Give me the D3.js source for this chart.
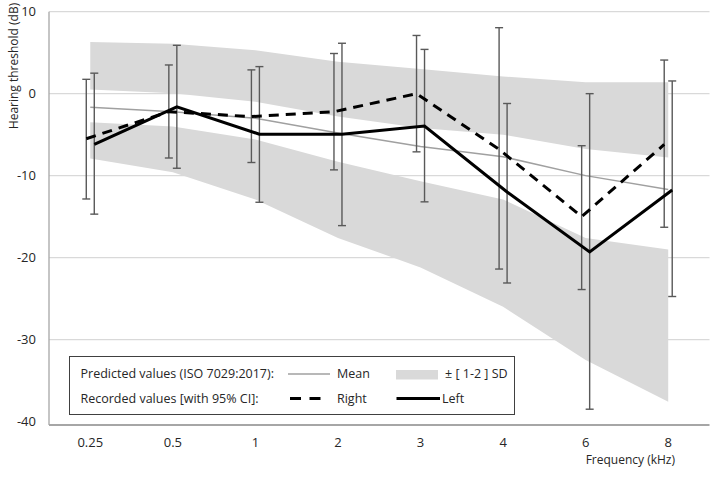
<!DOCTYPE html>
<html><head><meta charset="utf-8">
<script src="https://cdn.jsdelivr.net/npm/d3@7"></script>
<style>
html,body{margin:0;padding:0;background:#fff;}
text{font-family:"Open Sans","Noto Sans",sans-serif;fill:#262626;}
</style></head>
<body>
<svg id="chart" width="720" height="478"></svg>
<script>
// ---- data ----
const freqs = ["0.25","0.5","1","2","3","4","6","8"];
const yTicks = [10, 0, -10, -20, -30, -40];
const meanPred = [-1.65, -2.2, -3.0, -4.8, -6.45, -7.7, -10.0, -11.7];
const upperOuter = [6.3, 6.1, 5.3, 3.9, 3.0, 2.1, 1.4, 1.4];
const upperInner = [0.5, 0.05, -1.0, -2.8, -4.2, -5.0, -6.75, -7.8];
const lowerInner = [-3.5, -4.0, -5.6, -8.3, -10.7, -12.9, -17.6, -19.0];
const lowerOuter = [-7.9, -9.6, -12.9, -17.6, -21.2, -26.0, -32.5, -37.6];
const rightVals = [-5.5, -2.2, -2.8, -2.2, 0.0, -6.8, -15.0, -6.2];
const rightHi = [1.75, 3.5, 2.9, 4.9, 7.1, 8.05, -6.35, 4.1];
const rightLo = [-12.85, -7.85, -8.4, -9.3, -7.1, -21.4, -23.9, -16.3];
const leftVals = [-6.2, -1.6, -4.95, -4.95, -3.95, -12.0, -19.3, -11.75];
const leftHi = [2.5, 5.9, 3.3, 6.15, 5.4, -1.2, 0.0, 1.55];
const leftLo = [-14.7, -9.1, -13.25, -16.1, -13.2, -23.1, -38.5, -24.75];

// ---- layout ----
const svg = d3.select("#chart");
const x = d3.scaleBand().domain(freqs).range([49, 709.5]).padding(0);
const cx = f => x(f) + x.bandwidth() / 2;
const y = d3.scaleLinear().domain([-40, 10]).range([421.5, 11.7]);
const off = 4;

// gridlines
svg.append("g").selectAll("line").data(yTicks.filter(t => t > -40)).join("line")
  .attr("x1", 49).attr("x2", 709.5)
  .attr("y1", d => y(d)).attr("y2", d => y(d))
  .attr("stroke", "#d9d9d9").attr("stroke-width", 1.3);

// bands
const idx = d3.range(freqs.length);
const area = (hi, lo) => d3.area().x(i => cx(freqs[i])).y0(i => y(lo[i])).y1(i => y(hi[i]));
svg.append("path").datum(idx).attr("d", area(upperOuter, upperInner)).attr("fill", "#d9d9d9");
svg.append("path").datum(idx).attr("d", area(lowerInner, lowerOuter)).attr("fill", "#d9d9d9");

// axes lines
svg.append("line").attr("x1", 49).attr("x2", 49).attr("y1", y(10)).attr("y2", y(-40) + 3.5)
  .attr("stroke", "#a6a6a6").attr("stroke-width", 1.3);
svg.append("line").attr("x1", 49).attr("x2", 709.5).attr("y1", y(-40) + 3.5).attr("y2", y(-40) + 3.5)
  .attr("stroke", "#a6a6a6").attr("stroke-width", 2);

// y tick labels
svg.append("g").selectAll("text").data(yTicks).join("text")
  .attr("x", 36).attr("y", d => y(d)).attr("dy", "0.35em")
  .attr("text-anchor", "end").attr("font-size", 13).text(d => d);

// x tick labels
svg.append("g").selectAll("text").data(freqs).join("text")
  .attr("x", d => cx(d)).attr("y", 446.5)
  .attr("text-anchor", "middle").attr("font-size", 13).text(d => d);

svg.append("text").attr("x", 675).attr("y", 463.5).attr("text-anchor", "end")
  .attr("font-size", 12).text("Frequency (kHz)");
svg.append("text").attr("transform", "translate(17.5,66) rotate(-90)")
  .attr("text-anchor", "middle").attr("font-size", 12).text("Hearing threshold (dB)");

// mean line
const line = (vals, dx) => d3.line().x(i => cx(freqs[i]) + dx).y(i => y(vals[i]));
svg.append("path").datum(idx).attr("d", line(meanPred, 0)).attr("fill", "none")
  .attr("stroke", "#a0a0a0").attr("stroke-width", 1.5);

// error bars
function errBars(hi, lo, dx) {
  const g = svg.append("g").attr("stroke", "#595959").attr("stroke-width", 1.4);
  idx.forEach(i => {
    const xx = cx(freqs[i]) + dx;
    g.append("line").attr("x1", xx).attr("x2", xx).attr("y1", y(hi[i])).attr("y2", y(lo[i]));
    g.append("line").attr("x1", xx - 4).attr("x2", xx + 4).attr("y1", y(hi[i])).attr("y2", y(hi[i]));
    g.append("line").attr("x1", xx - 4).attr("x2", xx + 4).attr("y1", y(lo[i])).attr("y2", y(lo[i]));
  });
}
errBars(rightHi, rightLo, -off);
errBars(leftHi, leftLo, off);

// recorded lines
svg.append("path").datum(idx).attr("d", line(rightVals, -off)).attr("fill", "none")
  .attr("stroke", "#000").attr("stroke-width", 3).attr("stroke-dasharray", "10,7");
svg.append("path").datum(idx).attr("d", line(leftVals, off)).attr("fill", "none")
  .attr("stroke", "#000").attr("stroke-width", 3);

// legend
const lg = svg.append("g");
lg.append("rect").attr("x", 69.5).attr("y", 356.5).attr("width", 445).attr("height", 58)
  .attr("fill", "#fff").attr("stroke", "#404040").attr("stroke-width", 1);
const r1 = 374, r2 = 398.5;
lg.append("text").attr("x", 80.5).attr("y", r1).attr("dy", "0.35em").attr("font-size", 12.5)
  .text("Predicted values (ISO 7029:2017):");
lg.append("text").attr("x", 80.5).attr("y", r2).attr("dy", "0.35em").attr("font-size", 12.5)
  .text("Recorded values [with 95% CI]:");
lg.append("line").attr("x1", 288).attr("x2", 330).attr("y1", r1).attr("y2", r1)
  .attr("stroke", "#a0a0a0").attr("stroke-width", 1.5);
lg.append("text").attr("x", 337).attr("y", r1).attr("dy", "0.35em").attr("font-size", 12.5).text("Mean");
lg.append("rect").attr("x", 396).attr("y", 370).attr("width", 42).attr("height", 9.5).attr("fill", "#d9d9d9");
lg.append("text").attr("x", 445).attr("y", r1).attr("dy", "0.35em").attr("font-size", 12.5).text("± [ 1-2 ] SD");
lg.append("line").attr("x1", 290).attr("x2", 326).attr("y1", r2).attr("y2", r2)
  .attr("stroke", "#000").attr("stroke-width", 3).attr("stroke-dasharray", "11,8.5");
lg.append("text").attr("x", 337).attr("y", r2).attr("dy", "0.35em").attr("font-size", 12.5).text("Right");
lg.append("line").attr("x1", 396.5).attr("x2", 440).attr("y1", r2).attr("y2", r2)
  .attr("stroke", "#000").attr("stroke-width", 3);
lg.append("text").attr("x", 442).attr("y", r2).attr("dy", "0.35em").attr("font-size", 12.5).text("Left");
</script>
</body></html>
